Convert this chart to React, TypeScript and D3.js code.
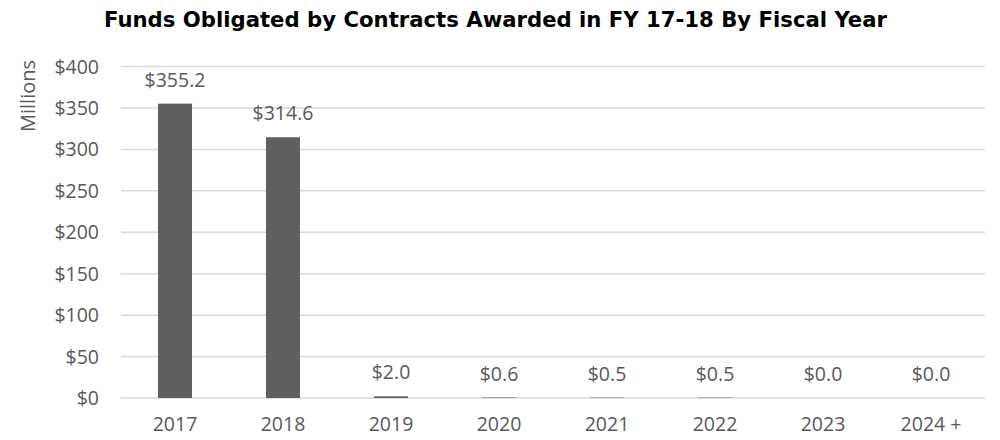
import React from "react";
import * as d3 from "d3";

const categories = ["2017", "2018", "2019", "2020", "2021", "2022", "2023", "2024 +"];
const values = [355.2, 314.6, 2.0, 0.6, 0.5, 0.5, 0.0, 0.0];
const yTicks = [0, 50, 100, 150, 200, 250, 300, 350, 400];
const title = "Funds Obligated by Contracts Awarded in FY 17-18 By Fiscal Year";
const yLabel = "Millions";

const W = 1000;
const H = 440;
const plot = { left: 121, right: 985, top: 66.5, bottom: 398 };
const textColor = "#595959";
const barColor = "#5f5f5f";
const gridColor = "#d9d9d9";
const font = "'Open Sans', 'Liberation Sans', sans-serif";

export default function App() {
  const x = d3
    .scaleBand<string>()
    .domain(categories)
    .range([plot.left, plot.right])
    .paddingInner(0.685)
    .paddingOuter(0.3425);
  const y = d3.scaleLinear().domain([0, 400]).range([plot.bottom, plot.top]);
  const fmt = (v: number) => "$" + d3.format(".1f")(v);

  return (
    <svg
      width={W}
      height={H}
      style={{ position: "absolute", left: 0, top: 0, background: "#fff" }}
    >
      <text
        x={495.5}
        y={27}
        textAnchor="middle"
        fontFamily="'DejaVu Sans', sans-serif"
        fontWeight="bold"
        fontSize={20.5}
        textLength={783}
        lengthAdjust="spacingAndGlyphs"
        fill="#000"
      >
        {title}
      </text>
      <text
        transform={`translate(35,96) rotate(-90)`}
        textAnchor="middle"
        fontFamily={font}
        fontSize={20}
        fill={textColor}
      >
        {yLabel}
      </text>
      {yTicks.map((t) => (
        <g key={t}>
          <line
            x1={plot.left}
            x2={plot.right}
            y1={y(t)}
            y2={y(t)}
            stroke={gridColor}
            strokeWidth={1.5}
          />
          <text
            x={99}
            y={y(t) + 7}
            textAnchor="end"
            fontFamily={font}
            fontSize={19.5}
            fill={textColor}
          >
            {"$" + t}
          </text>
        </g>
      ))}
      {categories.map((c, i) => {
        const bx = x(c)!;
        const cx = bx + x.bandwidth() / 2;
        const top = y(values[i]);
        return (
          <g key={c}>
            <rect
              x={bx}
              y={top}
              width={x.bandwidth()}
              height={Math.max(0, plot.bottom - top)}
              fill={barColor}
            />
            <text
              x={cx}
              y={top - 17}
              textAnchor="middle"
              fontFamily={font}
              fontSize={19.5}
              fill={textColor}
            >
              {fmt(values[i])}
            </text>
            <text
              x={cx}
              y={plot.bottom + 33}
              textAnchor="middle"
              fontFamily={font}
              fontSize={19.5}
              fill={textColor}
            >
              {c}
            </text>
          </g>
        );
      })}
    </svg>
  );
}
